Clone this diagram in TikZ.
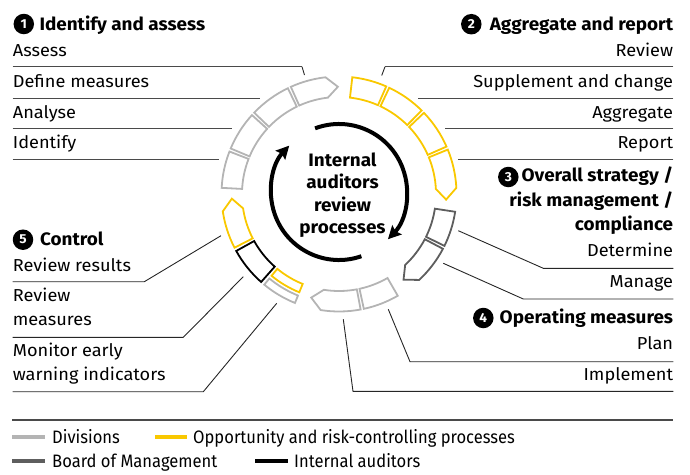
\documentclass[tikz,border=0pt]{standalone}
\usepackage{fontspec}
\setmainfont{Fira Sans}[FakeStretch=1.05]
\newfontfamily\legfont[FakeStretch=0.92]{Fira Sans}
\usetikzlibrary{arrows.meta}
\definecolor{ylw}{HTML}{F9C800}
\definecolor{lgr}{HTML}{B4B4B4}
\definecolor{dgr}{HTML}{5E5E5E}
\definecolor{rulec}{HTML}{4A4A4A}
\newcommand\ringseg[5]{\draw[#1] (#2:#4) arc[start angle=#2,end angle=#3,radius=#4] -- (#3:#5) arc[start angle=#3,end angle=#2,radius=#5] -- cycle;}
\newcommand\ringtip[5]{\draw[#1] (#2:#4) arc[start angle=#2,end angle=#3,radius=#4] -- ({#3-6}:{(#4+#5)/2}) -- (#3:#5) arc[start angle=#3,end angle=#2,radius=#5] -- cycle;}
\tikzset{
 txt/.style={inner sep=0pt, font=\fontsize{17.3}{23.3}\selectfont},
 head/.style={inner sep=0pt, font=\fontsize{18}{24.5}\selectfont\bfseries},
 ctr/.style={inner sep=0pt, align=center, font=\fontsize{18}{22.3}\selectfont\bfseries},
 num/.style={circle, fill=black, text=white, inner sep=0pt, minimum size=20.5pt, font=\fontsize{13}{13}\selectfont\bfseries},
 legtxt/.style={inner sep=0pt, font=\fontsize{18}{18}\selectfont\legfont},
 uline/.style={draw=rulec, line width=1.3pt},
 leader/.style={draw=black!85, line width=0.9pt},
 segl/.style={draw=lgr, line width=1.8pt, line join=miter},
 segy/.style={draw=ylw, line width=1.8pt, line join=miter},
 segd/.style={draw=dgr, line width=1.8pt, line join=miter},
 segb/.style={draw=black, line width=1.8pt, line join=miter},
 swatch/.style={line width=4pt},
 cyc/.style={draw=black, line width=4pt, -{Stealth[length=13pt,width=13pt,inset=2pt]}},
}
\begin{document}
\begin{tikzpicture}[x=1pt,y=-1pt]
\useasboundingbox (0,0) rectangle (690,474);
% ring
\begin{scope}[shift={(339,194)}, yscale=-1]
 % group 1
 \ringseg{segl}{177}{158.8}{97}{117.5}
 \ringseg{segl}{157.2}{137.8}{97}{117.5}
 \ringseg{segl}{136.2}{115.8}{97}{117.5}
 \ringtip{segl}{114.2}{96.6}{97}{117.5}
 % group 2
 \ringseg{segy}{83.5}{66.3}{97}{117.5}
 \ringseg{segy}{64.7}{45.3}{97}{117.5}
 \ringseg{segy}{43.7}{23.8}{97}{117.5}
 \ringtip{segy}{22.2}{3}{97}{117.5}
 % group 3
 \ringseg{segd}{-8.7}{-26.2}{97}{117.5}
 \ringtip{segd}{-27.8}{-47}{97}{117.5}
 % group 4
 \ringseg{segl}{-60}{-77.8}{97}{117.5}
 \ringtip{segl}{-79.4}{-99}{97}{117.5}
 % group 5
 \ringseg{segy}{-112}{-129.5}{97}{106}
 \ringseg{segl}{-112}{-129.5}{109.5}{117.5}
 \ringseg{segb}{-131.5}{-151}{97}{117.5}
 \ringtip{segy}{-152.8}{-171.5}{97}{117.5}
 % inner cycle
 \draw[cyc] (110.6:68) ++(0,2) arc[start angle=110.6,end angle=-44,radius=68];
 \draw[cyc] (-70.8:68) ++(0,2) arc[start angle=-70.8,end angle=-223,radius=68];
\end{scope}
\node[ctr, anchor=base] (center) at (342.5,233.3) {Internal\\auditors\\review\\processes};
% headings
\node[num] (n1) at (23.8,24) {1};
\node[head, anchor=base west] (h1) at (39.3,30) {Identify and assess};
\node[num] (n2) at (471.3,24.2) {2};
\node[head, anchor=base east] (h2) at (673.3,30) {Aggregate and report};
\node[num] (n3) at (508.3,177) {3};
\node[head, anchor=base east, align=right] (h3) at (673.3,230.7) {Overall strategy /\\risk management /\\compliance};
\node[num] (n4) at (483.3,318) {4};
\node[head, anchor=base east] (h4) at (673.3,323.3) {Operating measures};
\node[num] (n5) at (23,239.7) {5};
\node[head, anchor=base west] (h5) at (40,245) {Control};
% left upper texts
\node[txt, anchor=base west] (t1) at (12.7,56.7) {Assess};
\node[txt, anchor=base west] (t2) at (12.7,87.5) {Define measures};
\node[txt, anchor=base west] (t3) at (12.7,118) {Analyse};
\node[txt, anchor=base west] (t4) at (12.7,148.5) {Identify};
% right upper texts
\node[txt, anchor=base east] (t5) at (673.3,56.7) {Review};
\node[txt, anchor=base east] (t6) at (673.3,87.5) {Supplement and change};
\node[txt, anchor=base east] (t7) at (673.3,118) {Aggregate};
\node[txt, anchor=base east] (t8) at (673.3,148.5) {Report};
% right lower texts
\node[txt, anchor=base east] (t9) at (673.3,256.7) {Determine};
\node[txt, anchor=base east] (t10) at (673.3,287.3) {Manage};
\node[txt, anchor=base east] (t11) at (673.3,349.3) {Plan};
\node[txt, anchor=base east] (t12) at (673.3,380) {Implement};
% left lower texts
\node[txt, anchor=base west] (t13) at (12.7,271.7) {Review results};
\node[txt, anchor=base west, align=left] (t14) at (12.7,325) {Review\\measures};
\node[txt, anchor=base west, align=left] (t15) at (12.7,380) {Monitor early\\warning indicators};
% leader coordinates
\coordinate (a1) at (12.7,66.7); \coordinate (b1) at (302,66.7); \coordinate (c1) at (304.5,75);
\coordinate (a2) at (12.7,98.3); \coordinate (b2) at (260,98.3);
\coordinate (a3) at (12.7,128.3); \coordinate (b3) at (232,128.3);
\coordinate (a4) at (12.7,159.3); \coordinate (b4) at (219,159.3);
\coordinate (a5) at (673.3,66.7); \coordinate (b5) at (385,66.7); \coordinate (c5) at (381.7,75.5);
\coordinate (a6) at (673.3,98.3); \coordinate (b6) at (418,98.3);
\coordinate (a7) at (673.3,128.3); \coordinate (b7) at (445,128.3);
\coordinate (a8) at (673.3,159.3); \coordinate (b8) at (458,159.3);
\coordinate (a9) at (673.3,268.3); \coordinate (b9) at (543.3,268.3); \coordinate (c9) at (458.3,230.7);
\coordinate (a10) at (673.3,299); \coordinate (b10) at (523.3,299); \coordinate (c10) at (443.3,263.3);
\coordinate (a11) at (673.3,361.7); \coordinate (b11) at (410,361.7); \coordinate (c11) at (388.3,309.3);
\coordinate (a12) at (673.3,391.3); \coordinate (b12) at (353,391.3); \coordinate (c12) at (343.3,319.3);
\coordinate (a13) at (12.7,281.7); \coordinate (b13) at (144.3,281.7); \coordinate (c13) at (221,235.7);
\coordinate (a14) at (12.7,337.3); \coordinate (b14) at (183.3,337.3); \coordinate (c14) at (243.3,276.7);
\coordinate (a15) at (12.7,391.7); \coordinate (b15) at (203.3,391.7); \coordinate (c15) at (276.7,303.3);
\draw[uline] (a1) -- (b1); \draw[leader] (b1) -- (c1);
\draw[uline] (a2) -- (b2);
\draw[uline] (a3) -- (b3);
\draw[uline] (a4) -- (b4);
\draw[uline] (a5) -- (b5); \draw[leader] (b5) -- (c5);
\draw[uline] (a6) -- (b6);
\draw[uline] (a7) -- (b7);
\draw[uline] (a8) -- (b8);
\draw[leader] (a9) -- (b9) -- (c9);
\draw[leader] (a10) -- (b10) -- (c10);
\draw[leader] (a11) -- (b11) -- (c11);
\draw[leader] (a12) -- (b12) -- (c12);
\draw[leader] (a13) -- (b13) -- (c13);
\draw[leader] (a14) -- (b14) -- (c14);
\draw[leader] (a15) -- (b15) -- (c15);
% legend
\coordinate (r1) at (12,420); \coordinate (r2) at (673.3,420);
\draw[uline] (r1) -- (r2);
\coordinate (s1a) at (12,437); \coordinate (s1b) at (45,437);
\coordinate (s2a) at (155,437); \coordinate (s2b) at (187,437);
\coordinate (s3a) at (12,461); \coordinate (s3b) at (45,461);
\coordinate (s4a) at (255,461); \coordinate (s4b) at (288,461);
\draw[swatch, lgr] (s1a) -- (s1b);
\draw[swatch, ylw] (s2a) -- (s2b);
\draw[swatch, dgr] (s3a) -- (s3b);
\draw[swatch, black] (s4a) -- (s4b);
\node[legtxt, anchor=base west] (l1) at (52,443) {Divisions};
\node[legtxt, anchor=base west] (l2) at (193,443) {Opportunity and risk-controlling processes};
\node[legtxt, anchor=base west] (l3) at (52,467) {Board of Management};
\node[legtxt, anchor=base west] (l4) at (294,467) {Internal auditors};
\end{tikzpicture}
\end{document}
